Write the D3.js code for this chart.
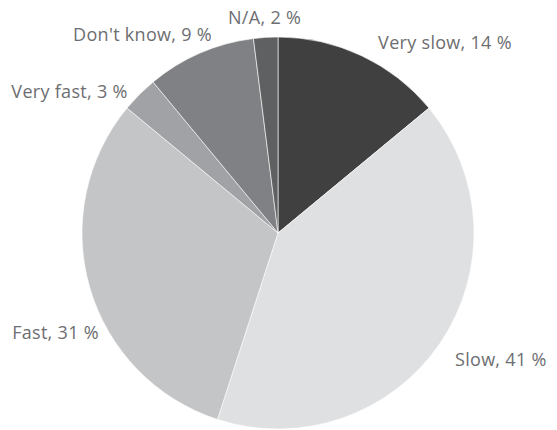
<!DOCTYPE html>
<html>
<head>
<meta charset="utf-8">
<script src="https://cdn.jsdelivr.net/npm/d3@7"></script>
<style>
  html, body { margin: 0; padding: 0; background: #fff; }
  svg { display: block; }
</style>
</head>
<body>
<svg id="chart" width="557" height="430"></svg>
<script>
// Answer categories, clockwise from 12 o'clock
const categories = ["Very slow", "Slow", "Fast", "Very fast", "Don't know", "N/A"];
const values = [14, 41, 31, 3, 9, 2];
const colors = ["#404040", "#dfe0e2", "#c4c5c7", "#a1a2a5", "#808184", "#5f6062"];

const width = 557, height = 430;
const cx = 278, cy = 233, radius = 196;

const svg = d3.select("#chart");
const g = svg.append("g").attr("transform", `translate(${cx},${cy})`);

const pie = d3.pie().sort(null).value(d => d.value);
const data = categories.map((c, i) => ({ name: c, value: values[i], color: colors[i] }));
const arcs = pie(data);

const arc = d3.arc().innerRadius(0).outerRadius(radius);

g.selectAll("path.slice")
  .data(arcs)
  .join("path")
  .attr("class", "slice")
  .attr("d", arc)
  .attr("fill", d => d.data.color)
  .attr("stroke", "#ffffff")
  .attr("stroke-width", 0.6);

// Outside labels: placed on a ring just beyond the pie, at a chosen
// fraction through each slice, then nudged for readability
const labelRing = radius + 18;
const labelLayout = [
  { frac: 0.5, anchor: "start", dx: 9, dy: 10 },
  { frac: 0.5, anchor: "start", dx: 0, dy: 13 },
  { frac: 0.39, anchor: "end", dx: 9, dy: 4 },
  { frac: 0.5, anchor: "end", dx: 1, dy: 16 },
  { frac: 0.5, anchor: "end", dx: 19, dy: 4 },
  { frac: 0.5, anchor: "middle", dx: 0, dy: 5 }
];

g.selectAll("text.label")
  .data(arcs)
  .join("text")
  .attr("class", "label")
  .each(function(d, i) {
    const L = labelLayout[i];
    const a = d.startAngle + (d.endAngle - d.startAngle) * L.frac;
    const x = Math.sin(a) * labelRing + L.dx;
    const y = -Math.cos(a) * labelRing + L.dy;
    d3.select(this)
      .attr("x", x)
      .attr("y", y)
      .attr("text-anchor", L.anchor);
  })
  .attr("font-family", "'Open Sans', sans-serif")
  .attr("font-size", 18)
  .attr("letter-spacing", 0.3)
  .attr("fill", "#6d6e71")
  .text(d => `${d.data.name}, ${d.data.value} %`);
</script>
</body>
</html>
